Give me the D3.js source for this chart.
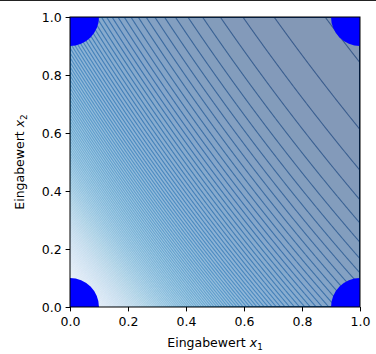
<!DOCTYPE html>
<html>
<head>
<meta charset="utf-8">
<script src="https://cdn.jsdelivr.net/npm/d3@7"></script>
<style>
  body { margin: 0; background: #fff; }
  svg { display: block; font-family: "DejaVu Sans", sans-serif; }
</style>
</head>
<body>
<div id="chart"></div>
<script>
// the four boolean inputs, drawn as big markers
const pointsX1 = [0, 0, 1, 1]
const pointsX2 = [0, 1, 0, 1]
const tickValues = [0, 0.2, 0.4, 0.6, 0.8, 1.0]

// neuron output surface: sigmoid(w1*x1 + w2*x2 + w12*x1*x2 + b)
const weights = [3.05, 2.2]
const crossWeight = 0.55
const bias = 0
const levelCount = 122

const width = 376, height = 354
const margin = {top: 17, right: 16, bottom: 47, left: 70}
const w = width - margin.left - margin.right
const h = height - margin.top - margin.bottom
const fs = 12.5

const svg = d3.select("#chart")
    .append("svg")
    .attr("width", width)
    .attr("height", height)

// cell border line at the top of the picture
svg.append("line")
    .attr("x1", 0).attr("x2", width)
    .attr("y1", 0.5).attr("y2", 0.5)
    .attr("stroke", "#222").attr("stroke-width", 1)

const g = svg.append("g")
    .attr("transform", `translate(${margin.left},${margin.top})`)

const x = d3.scaleLinear().domain([0, 1]).range([0, w])
const y = d3.scaleLinear().domain([0, 1]).range([h, 0])

// sample the surface, one cell per pixel
const n = w
const grid = new Float64Array(n * n)
const out = (a, b) => 1 / (1 + Math.exp(-(weights[0] * a + weights[1] * b + crossWeight * a * b + bias)))
for (let j = 0; j < n; j++) {
    for (let i = 0; i < n; i++) {
        grid[j * n + i] = out((i + 0.5) / n, (j + 0.5) / n)
    }
}
const lo = out(0, 0), hi = out(1, 1)
const step = (hi - lo) / levelCount
const levels = d3.range(levelCount).map(k => lo + (k + 0.6) * step)

const proj = d3.geoTransform({
    point: function(px, py) { this.stream.point(x(px / n), y(py / n)) }
})
const path = d3.geoPath(proj)

g.append("clipPath").attr("id", "clip")
    .append("rect").attr("width", w).attr("height", h)

const plot = g.append("g").attr("clip-path", "url(#clip)")

const contours = d3.contours().size([n, n]).thresholds(levels)(grid)
const paths = contours.map(c => path(c) || "")
const frame = `M0,0H${w}V${h}H0Z`

// filled bands (like contourf with alpha)
const bands = d3.range(levelCount + 1).map(b => ({
    d: (b === 0 ? frame : paths[b - 1]) + (b < levelCount ? paths[b] : ""),
    t: b / levelCount
}))

plot.append("g")
    .selectAll("path")
    .data(bands)
    .join("path")
    .attr("d", d => d.d)
    .attr("fill-rule", "evenodd")
    .attr("fill", d => d3.interpolateBlues(d.t))
    .attr("fill-opacity", 0.5)

plot.append("g")
    .selectAll("path")
    .data(paths)
    .join("path")
    .attr("d", d => d)
    .attr("fill", "none")
    .attr("stroke", (d, k) => d3.interpolateBlues((k + 0.5) / levelCount))
    .attr("stroke-opacity", 0.65)
    .attr("stroke-width", 1.1)

// corner markers
plot.append("g")
    .selectAll("circle")
    .data(pointsX1.map((v, i) => [v, pointsX2[i]]))
    .join("circle")
    .attr("cx", d => x(d[0]))
    .attr("cy", d => y(d[1]))
    .attr("r", 29)
    .attr("fill", "#0000ff")

// axes
const xAxis = g.append("g")
    .attr("transform", `translate(0,${h})`)
    .call(d3.axisBottom(x).tickValues(tickValues).tickFormat(d3.format(".1f")).tickSize(4.4).tickPadding(5.5))
const yAxis = g.append("g")
    .call(d3.axisLeft(y).tickValues(tickValues).tickFormat(d3.format(".1f")).tickSize(4.4).tickPadding(4))

for (const a of [xAxis, yAxis]) {
    a.select(".domain").remove()
    a.selectAll("text").attr("font-size", fs).attr("fill", "#000").attr("font-family", "DejaVu Sans")
    a.selectAll("line").attr("stroke", "#000").attr("stroke-width", 1)
}

g.append("rect")
    .attr("width", w).attr("height", h)
    .attr("fill", "none").attr("stroke", "#000").attr("stroke-width", 1)

const xl = g.append("text")
    .attr("x", w / 2).attr("y", h + 40)
    .attr("text-anchor", "middle").attr("font-size", fs)
xl.append("tspan").text("Eingabewert ")
xl.append("tspan").attr("font-style", "italic").text("x")
xl.append("tspan").attr("font-size", 8.8).attr("dy", 2.5).text("1")

const yl = g.append("text")
    .attr("transform", `translate(-46,${h / 2}) rotate(-90)`)
    .attr("text-anchor", "middle").attr("font-size", fs)
yl.append("tspan").text("Eingabewert ")
yl.append("tspan").attr("font-style", "italic").text("x")
yl.append("tspan").attr("font-size", 8.8).attr("dy", 2.5).text("2")
</script>
</body>
</html>
